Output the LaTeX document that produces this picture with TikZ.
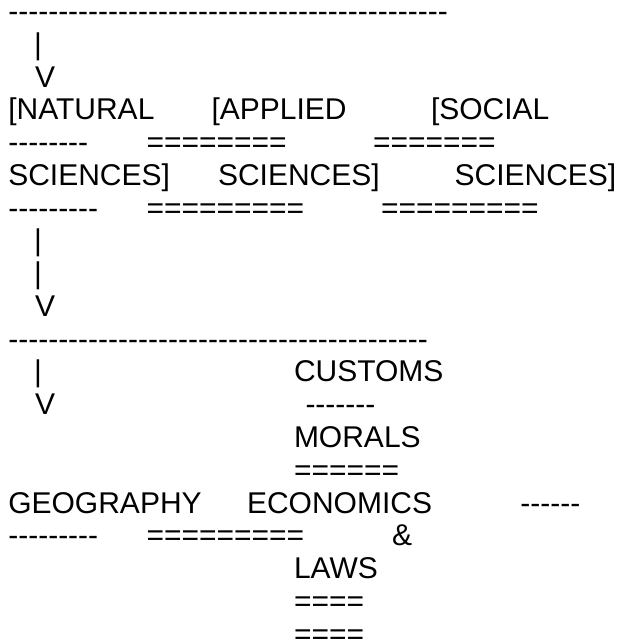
\documentclass[tikz,border=0pt]{standalone}
\usepackage{fontspec}
\newfontfamily\asciifont{Liberation Sans}
\newcommand{\rowNode}[4]{\node[txt] (#1) at (#2, {-(21.5+(#3-1)*32.77)}) {#4};}

\begin{document}
\begin{tikzpicture}[x=1pt, y=1pt, txt/.style={anchor=base west, inner sep=0pt, outer sep=0pt,
		font=\asciifont\fontsize{30}{36}\selectfont}]
	\useasboundingbox (0,0) rectangle (616,-639);
	\rowNode{rule1}{8.3}{1}{--------------------------------------------}
	\rowNode{bar1}{34}{2}{|} \rowNode{tip1}{35}{3}{V}
	\rowNode{natural}{8.3}{4}{[NATURAL} \rowNode{applied}{211.5}{4}{[APPLIED}
	\rowNode{social}{431}{4}{[SOCIAL}
	\rowNode{naturalul}{8.3}{5}{--------} \rowNode{appliedul}{146.5}{5}{========}
	\rowNode{socialul}{373}{5}{=======}
	\rowNode{naturalsc}{8.3}{6}{SCIENCES]} \rowNode{appliedsc}{218}{6}{SCIENCES]}
	\rowNode{socialsc}{454.6}{6}{SCIENCES]}
	\rowNode{naturalsl}{8.3}{7}{---------} \rowNode{appliedsl}{146.5}{7}{=========}
	\rowNode{socialsl}{381}{7}{=========}
	\rowNode{bar2}{34}{8}{|} \rowNode{bar3}{34}{9}{|} \rowNode{tip2}{35}{10}{V}
	\rowNode{rule2}{8.3}{11}{------------------------------------------}
	\rowNode{bar4}{34}{12}{|} \rowNode{customs}{294}{12}{CUSTOMS}
	\rowNode{tip3}{35}{13}{V} \rowNode{customsul}{305.5}{13}{-------}
	\rowNode{morals}{294}{14}{MORALS} \rowNode{moralsul}{294}{15}{======}
	\rowNode{geography}{8.3}{16}{GEOGRAPHY} \rowNode{economics}{247}{16}{ECONOMICS}
	\rowNode{dashes}{520.4}{16}{------}
	\rowNode{geographyul}{8.3}{17}{---------} \rowNode{economicsul}{146.5}{17}{=========}
	\rowNode{amp}{392}{17}{\&}
	\rowNode{laws}{294}{18}{LAWS}
	\rowNode{lawsul}{294}{19}{====} \rowNode{lawsdl}{294}{20}{====}
\end{tikzpicture}
\end{document}
